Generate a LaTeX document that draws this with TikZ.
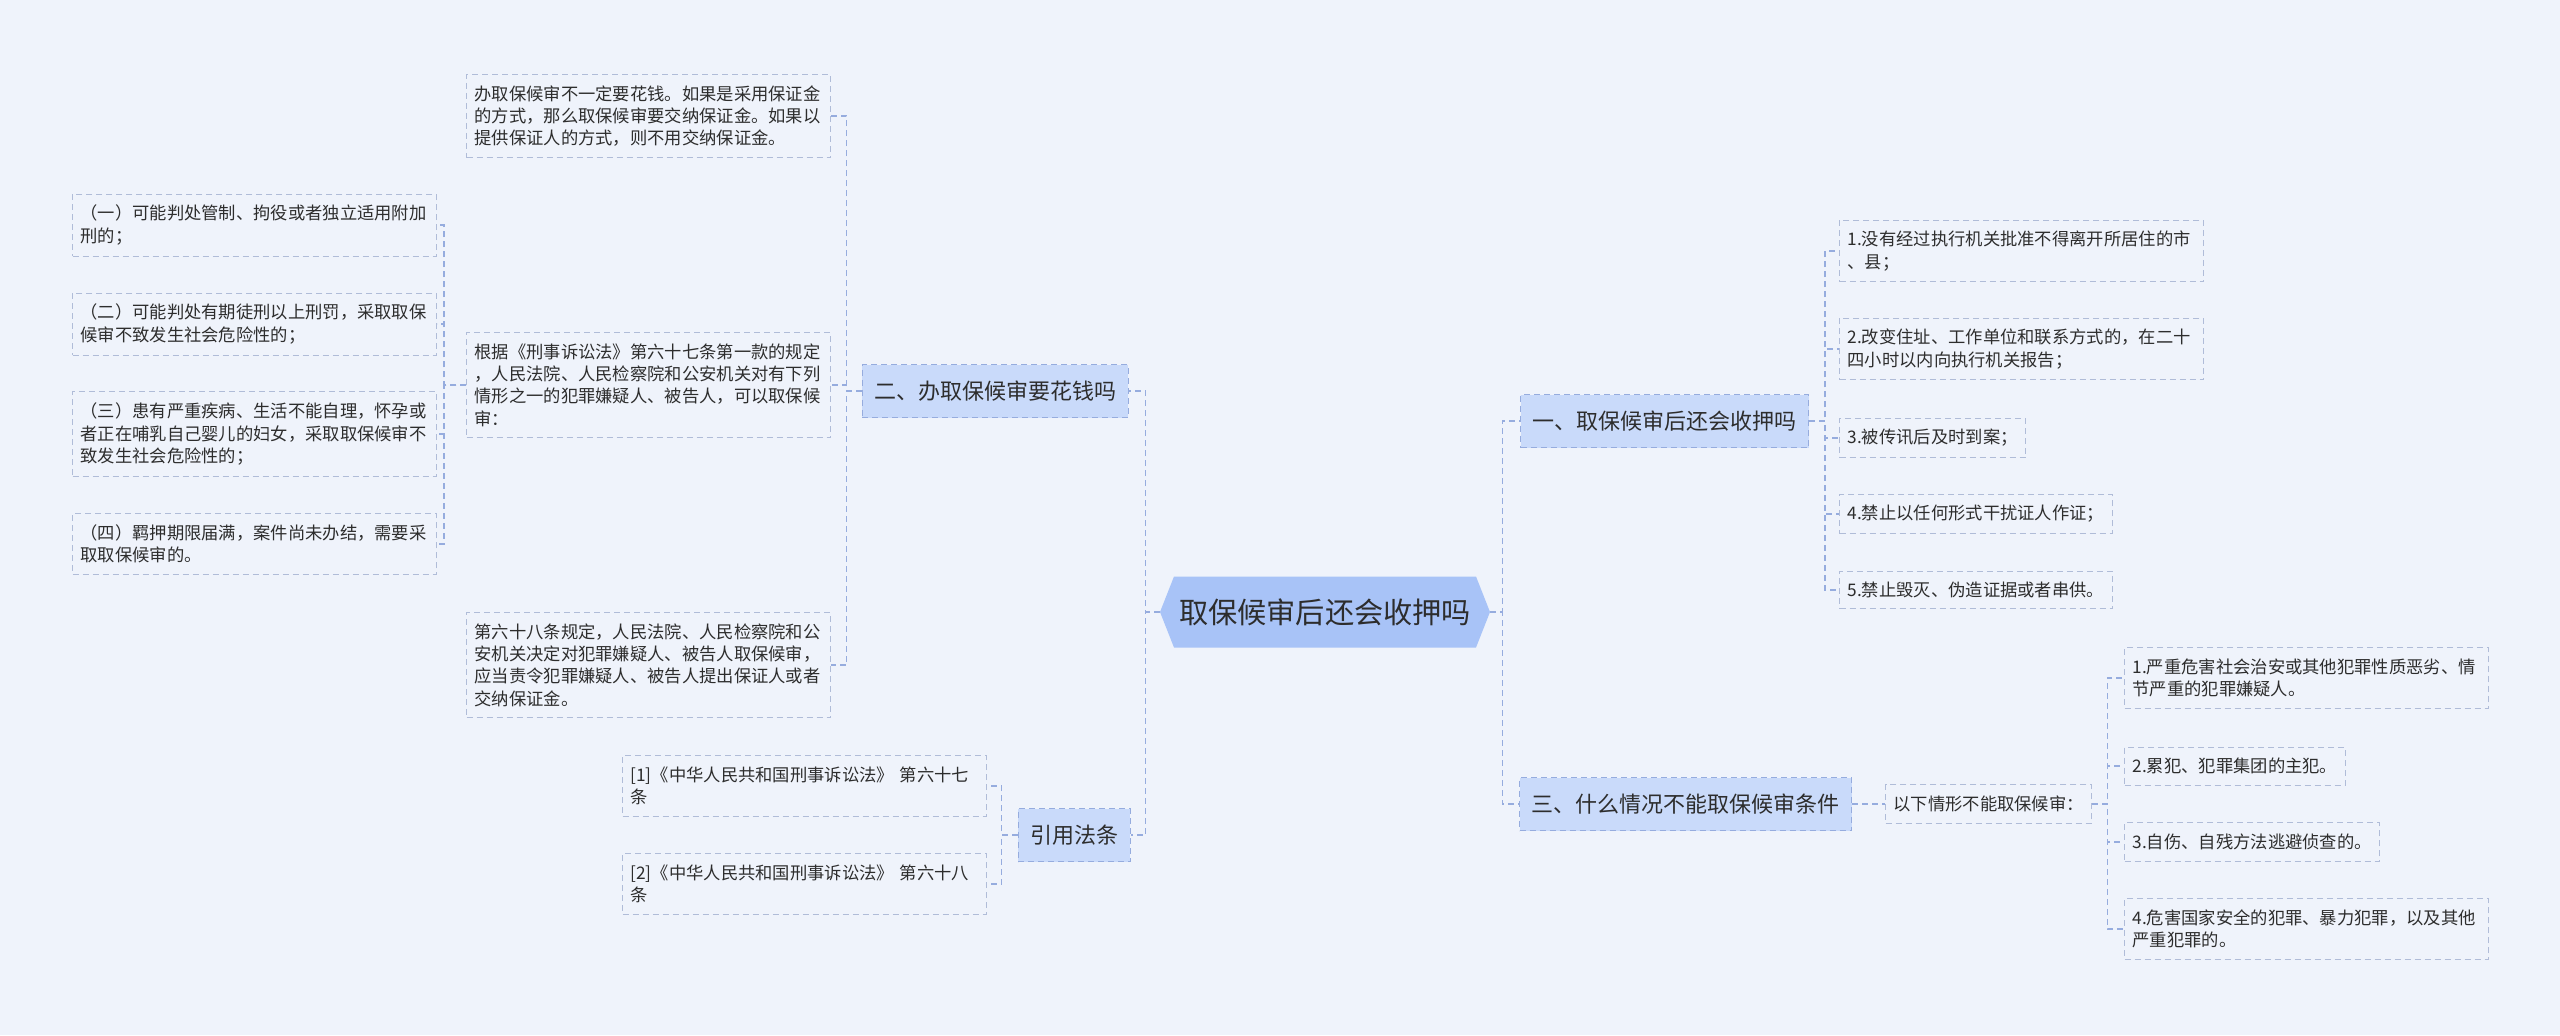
\documentclass[tikz,border=0pt]{standalone}
\usepackage{fontspec}
\setmainfont{Noto Sans CJK SC}
\usetikzlibrary{calc}
\definecolor{bg}{RGB}{239,243,251}
\definecolor{rootfill}{RGB}{168,195,247}
\definecolor{topicfill}{RGB}{201,218,250}
\definecolor{topicline}{RGB}{150,172,222}
\definecolor{leafline}{RGB}{176,188,216}
\definecolor{linkc}{RGB}{150,172,222}
\definecolor{txt}{RGB}{45,45,45}

\begin{document}
\begin{tikzpicture}[x=0.5pt,y=-0.5pt,
  link/.style={draw=linkc,dash pattern=on 3pt off 2pt,line width=0.7pt},
  leaf/.style={draw=leafline,dash pattern=on 3pt off 2pt,line width=0.5pt,fill=bg,text=txt,
    font=\fontsize{8.65}{11.2}\selectfont,inner xsep=4pt,inner ysep=5.5pt,align=left},
  wide/.style={leaf,text width=174pt},
  topic/.style={draw=topicline,dash pattern=on 3pt off 2pt,line width=0.5pt,fill=topicfill,text=txt,
    font=\fontsize{11}{13}\selectfont,inner xsep=6pt,minimum height=26.5pt},
  rootbox/.style={fill=bg,text=txt,font=\fontsize{14.6}{17}\selectfont,minimum width=165pt,minimum height=35.5pt,
    path picture={\fill[rootfill] (path picture bounding box.west)
      -- ([xshift=7pt]path picture bounding box.north west) -- ([xshift=-7pt]path picture bounding box.north east)
      -- (path picture bounding box.east)
      -- ([xshift=-7pt]path picture bounding box.south east) -- ([xshift=7pt]path picture bounding box.south west)
      -- cycle;}}]

\fill[bg] (0,0) rectangle (2560,1035);
\useasboundingbox (0,0) rectangle (2560,1035);

% centre
\node[rootbox] (R) at (1325,612) {取保候审后还会收押吗};

% left side
\node[topic] (Q2) at (995,391) {二、办取保候审要花钱吗};
\node[topic] (Q4) at (1074,835) {引用法条};

\node[wide,anchor=east] (A) at (831,116) {办取保候审不一定要花钱。如果是采用保证金\\的方式，那么取保候审要交纳保证金。如果以\\提供保证人的方式，则不用交纳保证金。};
\node[wide,anchor=east] (B) at (831,385) {根据《刑事诉讼法》第六十七条第一款的规定\\，人民法院、人民检察院和公安机关对有下列\\情形之一的犯罪嫌疑人、被告人，可以取保候\\审：};
\node[wide,anchor=east] (C) at (831,665) {第六十八条规定，人民法院、人民检察院和公\\安机关决定对犯罪嫌疑人、被告人取保候审，\\应当责令犯罪嫌疑人、被告人提出保证人或者\\交纳保证金。};

\node[wide,anchor=east] (B1) at (437,225) {（一）可能判处管制、拘役或者独立适用附加\\刑的；};
\node[wide,anchor=east] (B2) at (437,324) {（二）可能判处有期徒刑以上刑罚，采取取保\\候审不致发生社会危险性的；};
\node[wide,anchor=east] (B3) at (437,434) {（三）患有严重疾病、生活不能自理，怀孕或\\者正在哺乳自己婴儿的妇女，采取取保候审不\\致发生社会危险性的；};
\node[wide,anchor=east] (B4) at (437,544) {（四）羁押期限届满，案件尚未办结，需要采\\取取保候审的。};

\node[wide,anchor=east] (F1) at (987,786) {[1]《中华人民共和国刑事诉讼法》 第六十七\\条};
\node[wide,anchor=east] (F2) at (987,884) {[2]《中华人民共和国刑事诉讼法》 第六十八\\条};

% right side
\node[topic,anchor=west] (Q1) at (1520,421) {一、取保候审后还会收押吗};
\node[topic,anchor=west] (Q3) at (1519,804) {三、什么情况不能取保候审条件};

\node[wide,anchor=west] (P1) at (1839,251) {1.没有经过执行机关批准不得离开所居住的市\\、县；};
\node[wide,anchor=west] (P2) at (1839,349) {2.改变住址、工作单位和联系方式的，在二十\\四小时以内向执行机关报告；};
\node[leaf,anchor=west] (P3) at (1839,438) {3.被传讯后及时到案；};
\node[leaf,anchor=west] (P4) at (1839,514) {4.禁止以任何形式干扰证人作证；};
\node[leaf,anchor=west] (P5) at (1839,590) {5.禁止毁灭、伪造证据或者串供。};

\node[leaf,anchor=west] (N) at (1885,804) {以下情形不能取保候审：};
\node[wide,anchor=west] (N1) at (2124,678) {1.严重危害社会治安或其他犯罪性质恶劣、情\\节严重的犯罪嫌疑人。};
\node[leaf,anchor=west] (N2) at (2124,766) {2.累犯、犯罪集团的主犯。};
\node[leaf,anchor=west] (N3) at (2124,842) {3.自伤、自残方法逃避侦查的。};
\node[wide,anchor=west] (N4) at (2124,929) {4.危害国家安全的犯罪、暴力犯罪，以及其他\\严重犯罪的。};

% connectors
\foreach \n in {Q2,Q4} \draw[link] (R.west) -- ++(-14,0) |- (\n.east);
\foreach \n in {Q1,Q3} \draw[link] (R.east) -- ++(12,0) |- (\n.west);
\foreach \n in {A,B,C} \draw[link] (Q2.west) -- ++(-15,0) |- (\n.east);
\foreach \n in {B1,B2,B3,B4} \draw[link] (B.west) -- ++(-22,0) |- (\n.east);
\foreach \n in {F1,F2} \draw[link] (Q4.west) -- ++(-16,0) |- (\n.east);
\foreach \n in {P1,P2,P3,P4,P5} \draw[link] (Q1.east) -- ++(16,0) |- (\n.west);
\draw[link] (Q3.east) -- (N.west);
\foreach \n in {N1,N2,N3,N4} \draw[link] (N.east) -- ++(15,0) |- (\n.west);

\end{tikzpicture}
\end{document}
